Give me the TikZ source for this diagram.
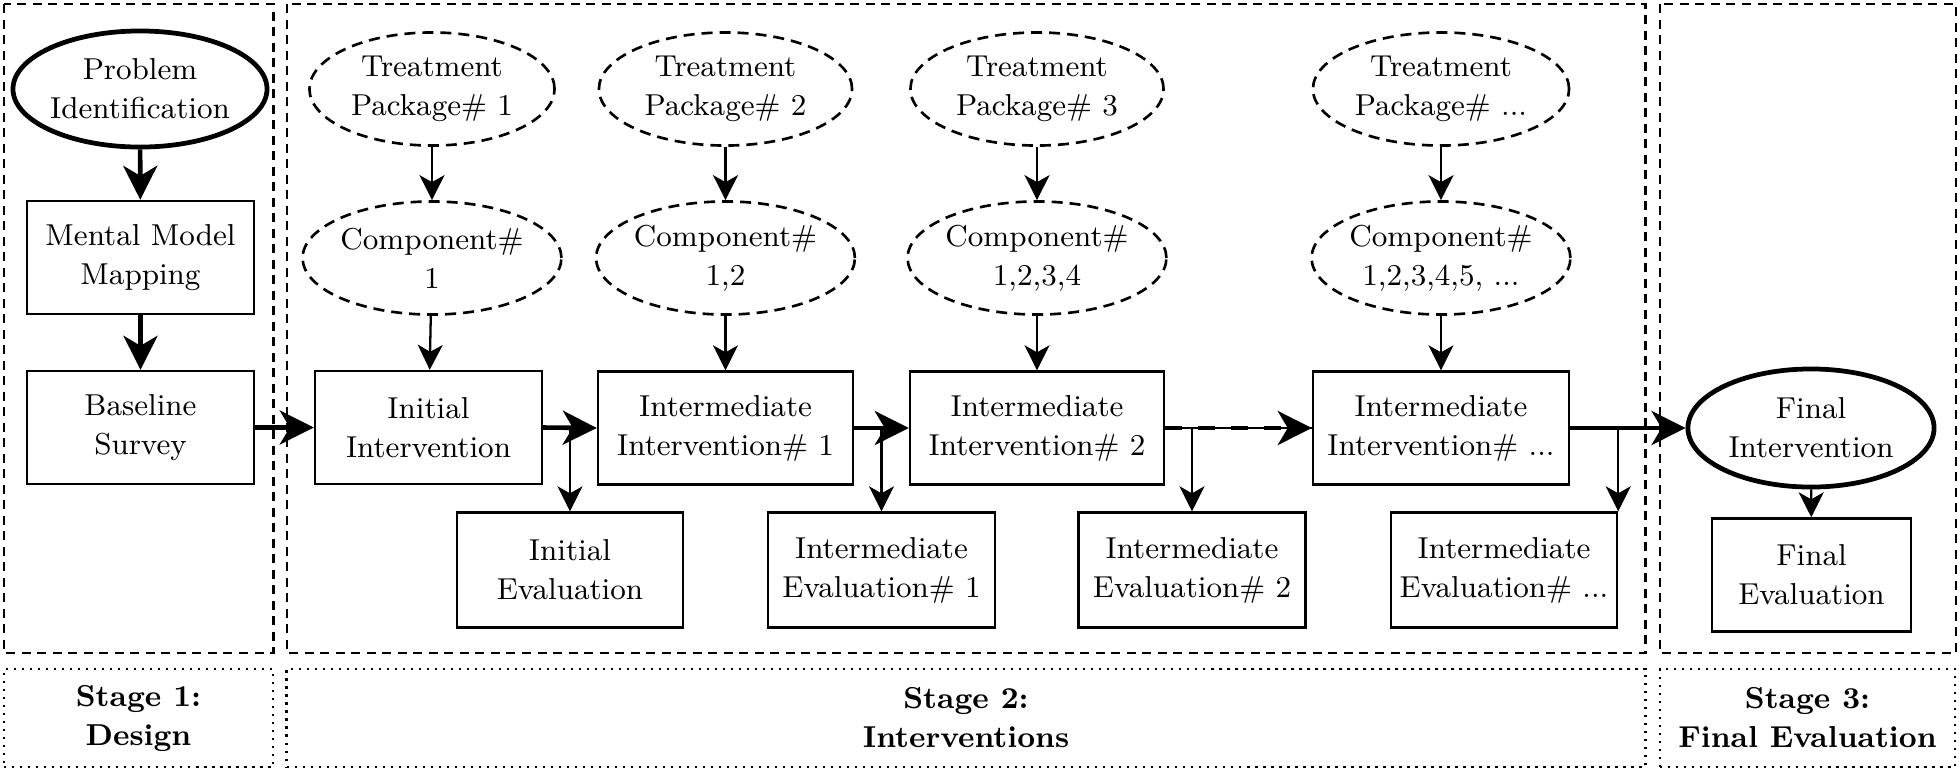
\documentclass[tikz,border=0pt]{standalone}
\usetikzlibrary{shapes.geometric,arrows.meta}
\begin{document}
\begin{tikzpicture}[x=0.01cm,y=-0.01cm,
  every node/.style={font=\rmfamily\fontsize{8.6pt}{11.1pt}\selectfont, align=center, inner sep=0pt},
  rbox/.style={draw, line width=0.65pt, minimum height=1.13cm},
  dell/.style={ellipse, draw, line width=0.75pt, dash pattern=on 0.11cm off 0.07cm, minimum height=1.13cm},
  tell/.style={ellipse, draw, line width=1.35pt, minimum height=1.16cm},
  thk/.style={line width=1.3pt, -{Stealth[length=0.34cm,width=0.34cm,inset=0.1cm]}},
  thn/.style={line width=0.65pt, -{Stealth[length=0.25cm,width=0.25cm,inset=0.07cm]}},
  stagebox/.style={draw, line width=0.8pt, dash pattern=on 0.09cm off 0.065cm},
  labbox/.style={draw, line width=0.75pt, dash pattern=on 0.025cm off 0.055cm, minimum height=0.98cm, font=\rmfamily\fontsize{8.6pt}{11.1pt}\selectfont\bfseries},
]
\useasboundingbox (0,0) rectangle (1960,772);

% stage frames
\draw[stagebox] (4,4) rectangle (273.5,653);
\draw[stagebox] (287,4) rectangle (1645.5,653);
\draw[stagebox] (1660,4) rectangle (1956,653);

\node[labbox, minimum width=2.69cm] (l1) at (138.5,718) {Stage 1:\\Design};
\node[labbox, minimum width=13.58cm] (l2) at (966,718) {Stage 2:\\Interventions};
\node[labbox, minimum width=2.95cm] (l3) at (1807.5,718) {Stage 3:\\Final Evaluation};

% stage 1
\node[tell, minimum width=2.31cm] (pi) at (140,89) {Problem\\Identification};
\node[rbox, minimum width=2.27cm] (mm) at (140.5,257.5) {Mental Model\\Mapping};
\node[rbox, minimum width=2.27cm] (bs) at (140.5,427.5) {Baseline\\Survey};

% stage 2 top row
\node[dell, minimum width=2.45cm] (tp1) at (432,89) {Treatment\\Package\# 1};
\node[dell, minimum width=2.45cm] (c1) at (432,258) {Component\#\\1};
\node[dell, minimum width=2.53cm] (tp2) at (725.5,89) {Treatment\\Package\# 2};
\node[dell, minimum width=2.53cm] (c2) at (725.5,258) {Component\#\\1,2};
\node[dell, minimum width=2.53cm] (tp3) at (1037,89) {Treatment\\Package\# 3};
\node[dell, minimum width=2.53cm] (c3) at (1037,258) {Component\#\\1,2,3,4};
\node[dell, minimum width=2.56cm] (tp4) at (1441,89) {Treatment\\Package\# ...};
\node[dell, minimum width=2.56cm] (c4) at (1441,258) {Component\#\\1,2,3,4,5, ...};

% interventions
\node[rbox, minimum width=2.27cm] (ii) at (428.5,427.5) {Initial\\Intervention};
\node[rbox, minimum width=2.55cm] (n1) at (725.5,428) {Intermediate\\Intervention\# 1};
\node[rbox, minimum width=2.54cm] (n2) at (1037,428) {Intermediate\\Intervention\# 2};
\node[rbox, minimum width=2.56cm] (n4) at (1441,428) {Intermediate\\Intervention\# ...};

% evaluations
\node[rbox, minimum width=2.26cm, minimum height=1.15cm] (ie) at (570,570) {Initial\\Evaluation};
\node[rbox, minimum width=2.27cm, minimum height=1.15cm] (e1) at (881.5,570) {Intermediate\\Evaluation\# 1};
\node[rbox, minimum width=2.27cm, minimum height=1.15cm] (e2) at (1192,570) {Intermediate\\Evaluation\# 2};
\node[rbox, minimum width=2.26cm, minimum height=1.15cm] (e4) at (1504,570) {Intermediate\\Evaluation\# ...};

% stage 3
\node[tell, minimum width=2.46cm, minimum height=1.18cm] (fi) at (1811,428) {Final\\Intervention};
\node[rbox, minimum width=1.99cm] (fe) at (1811.5,575) {Final\\Evaluation};

% connectors
\draw[thk] (pi) -- (mm);
\draw[thk] (mm) -- (bs);
\draw[thk] (bs.east) -- (ii.west);

\foreach \a/\b/\c in {tp1/c1/ii, tp2/c2/n1, tp3/c3/n2, tp4/c4/n4} {
  \draw[thn] (\a) -- (\b);
  \draw[thn] (\b) -- (\c);
}

\draw[thk] (ii.east) -- (n1.west);
\draw[thk] (n1.east) -- (n2.west);
\draw[line width=0.65pt] (n2.east) -- (n4.west);
\draw[thk, dash pattern=on 0.17cm off 0.16cm] (n2.east) -- (n4.west);
\draw[thk] (n4.east) -- (fi.west);

\draw[thn] (ie.north |- ii.east) -- (ie.north);
\draw[thn] (e1.north |- n1.east) -- (e1.north);
\draw[thn] (e2.north |- n2.east) -- (e2.north);
\draw[thn] (e4.north east |- n4.east) -- (e4.north east);
\draw[thn] (fi) -- (fe);
\end{tikzpicture}
\end{document}
